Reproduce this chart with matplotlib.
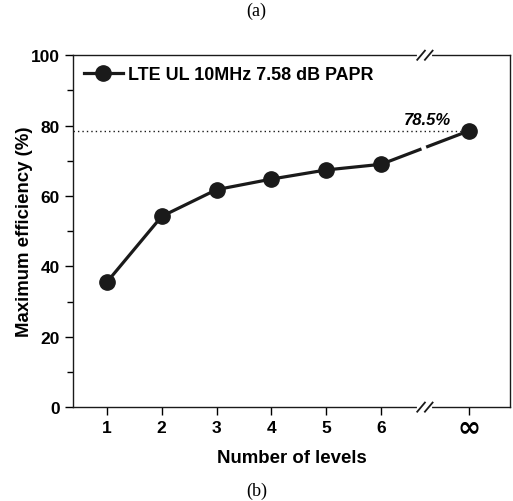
import matplotlib
matplotlib.use('Agg')
import matplotlib.pyplot as plt
import numpy as np

plt.rcParams['font.family'] = ['Liberation Sans', 'DejaVu Sans']
plt.rcParams['font.weight'] = 'bold'

LEVELS = ['1', '2', '3', '4', '5', '6', '∞']
LEVEL_POS = [1, 2, 3, 4, 5, 6, 7.6]
EFFICIENCY = [35.5, 54.2, 61.8, 64.8, 67.4, 69.0, 78.5]
PEAK_LABEL = '78.5%'
SERIES = 'LTE UL 10MHz 7.58 dB PAPR'
BREAK_AT = 6.8

fig = plt.figure(figsize=(5.13, 5.02), dpi=100)
ax = fig.add_axes([0.142, 0.187, 0.852, 0.701])

# solid curve up to 6 levels, then the broken jump to infinity
x = np.array(LEVEL_POS)
y = np.array(EFFICIENCY)
ax.plot(x[:6], y[:6], color='#1a1a1a', lw=2.3, marker='o', ms=11,
        label=SERIES, zorder=3)
g0, g1 = BREAK_AT - 0.09, BREAK_AT + 0.05
ax.plot([x[5], g0], [y[5], np.interp(g0, x[5:], y[5:])], color='#1a1a1a', lw=2.3)
ax.plot([g1, x[6]], [np.interp(g1, x[5:], y[5:]), y[6]], color='#1a1a1a', lw=2.3)
ax.plot(x[6], y[6], 'o', color='#1a1a1a', ms=11, zorder=3)

ax.plot([0.38, x[6]], [y[6], y[6]], ls=(0, (1, 2.2)), color='#1a1a1a', lw=1)
ax.text(x[6] - 0.33, y[6] + 1.0, PEAK_LABEL, ha='right', va='bottom',
        fontsize=12, style='italic', fontweight='bold')

ax.set_xlim(0.38, 8.35)
ax.set_ylim(0, 100)
ax.set_xticks(LEVEL_POS)
ax.set_xticklabels(LEVELS[:-1] + [''])
ax.set_yticks(range(0, 101, 20))
ax.set_yticks(range(10, 100, 20), minor=True)
ax.tick_params(direction='out', length=6, width=1, labelsize=12.5)
ax.tick_params(which='minor', direction='out', length=4, width=1)
# the infinity label is drawn on its own so its tall glyph box does not
# push the axis label down
ax.text(LEVEL_POS[-1], -0.055, LEVELS[-1], transform=ax.get_xaxis_transform(),
        ha='center', va='center', fontsize=20, family='DejaVu Sans',
        fontweight='bold')
for s in ax.spines.values():
    s.set_linewidth(1)
    s.set_color('#1a1a1a')

ax.set_xlabel('Number of levels', fontsize=13.4, fontweight='bold')
ax.set_ylabel('Maximum efficiency (%)', fontsize=13.4, fontweight='bold')
ax.xaxis.set_label_coords(0.5, -0.12)
ax.yaxis.set_label_coords(-0.092, 0.5)

ax.legend(loc='upper left', frameon=False, handlelength=2.2,
          borderaxespad=0.3, borderpad=0.3, handletextpad=0.3,
          prop={'weight': 'bold', 'size': 12.9})

# axis break marks on the top and bottom spines
for yb in (0, 1):
    ax.plot([BREAK_AT - 0.1, BREAK_AT + 0.1], [yb, yb], color='white', lw=3,
            transform=ax.get_xaxis_transform(), clip_on=False, zorder=4)
    for dx in (-0.07, 0.07):
        ax.plot([BREAK_AT + dx - 0.07, BREAK_AT + dx + 0.07],
                [yb - 0.013, yb + 0.013], color='#1a1a1a', lw=1.3,
                transform=ax.get_xaxis_transform(), clip_on=False, zorder=5)

fig.text(0.5, 0.978, '(a)', ha='center', va='center', family='Liberation Serif',
         fontweight='normal', fontsize=13)
fig.text(0.5, 0.022, '(b)', ha='center', va='center', family='Liberation Serif',
         fontweight='normal', fontsize=13)

fig.savefig('out.png', dpi=100)
